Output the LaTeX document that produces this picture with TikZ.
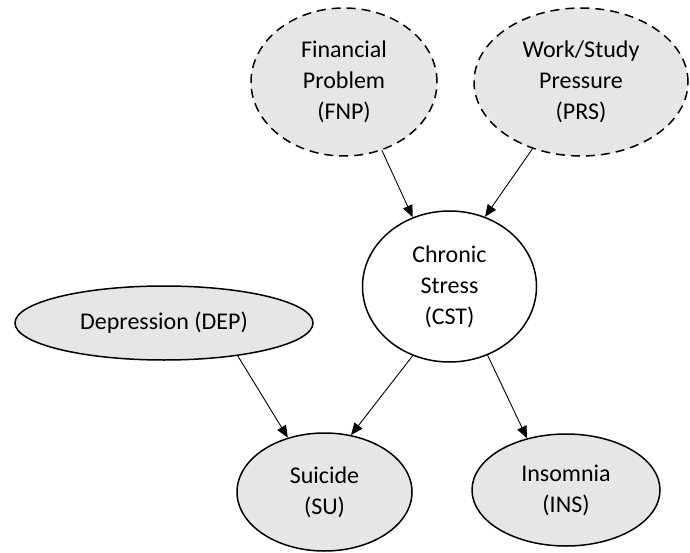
\documentclass[tikz,border=0pt]{standalone}
\usepackage{fontspec}
\setmainfont{Carlito}
\usetikzlibrary{shapes.geometric,arrows.meta}
\definecolor{nodegray}{RGB}{230,230,230}
\begin{document}
\begin{tikzpicture}[x=1pt,y=-1pt,
  var/.style={ellipse, draw, line width=1.5pt, fill=nodegray, inner sep=0pt, align=center,
              font=\fontsize{24}{31}\selectfont},
  latent/.style={var, dash pattern=on 9pt off 6pt},
  obs/.style={var, fill=white},
  edge/.style={-{Triangle[length=12pt,width=10pt]}, line width=0.9pt}]
\useasboundingbox (0,0) rectangle (690,553);
\node[latent, minimum width=186pt, minimum height=148pt] (FNP) at (344,82) {Financial\\Problem\\(FNP)};
\node[latent, minimum width=214pt, minimum height=148pt] (PRS) at (581,82) {Work/Study\\Pressure\\(PRS)};
\node[obs, minimum width=174pt, minimum height=151pt] (CST) at (449.5,286.5) {Chronic\\Stress\\(CST)};
\node[var, minimum width=298pt, minimum height=74pt] (DEP) at (164,323) {Depression (DEP)};
\node[var, minimum width=175pt, minimum height=118pt] (SU) at (324.5,492) {Suicide\\(SU)};
\node[var, minimum width=188pt, minimum height=112pt] (INS) at (566,490) {Insomnia\\(INS)};
\draw[edge] (FNP.-61) -- (CST.118);
\draw[edge] (PRS.-126) -- (CST.63);
\draw[edge] (DEP.-24) -- (SU.124);
\draw[edge] (CST.-118) -- (SU.65);
\draw[edge] (CST.-61) -- (INS.127);
\end{tikzpicture}
\end{document}
